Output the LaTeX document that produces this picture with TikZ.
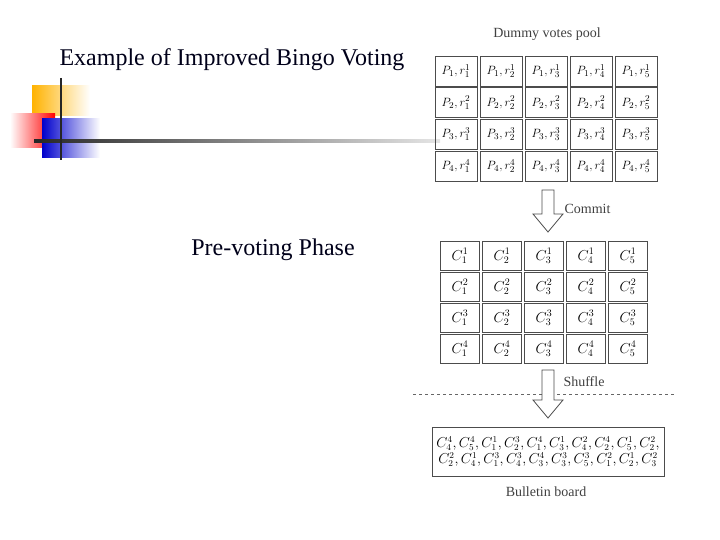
\documentclass[tikz,border=0pt]{standalone}
\usepackage{fontspec}
\setmainfont{Liberation Serif}
\usetikzlibrary{shadings}
\begin{document}
\begin{tikzpicture}[x=1pt,y=-1pt,
 cell/.style={draw=black!70,line width=0.8pt,minimum width=42pt,minimum height=30pt,inner sep=0pt,font=\fontsize{13}{14}\selectfont},
 ccell/.style={draw=black!70,line width=0.8pt,minimum width=39pt,minimum height=29pt,inner sep=0pt,font=\fontsize{14}{15}\selectfont},
 lbl/.style={font=\fontsize{14}{15}\selectfont,text=black!75},
 hollow/.style={draw=black!70,line width=0.8pt,fill=white}]
\useasboundingbox (0,0) rectangle (720,540);
% decoration
\shade[left color=orange!60!yellow,right color=white] (32,86) rectangle (90,116);
\shade[left color=white,right color=red] (10,114) rectangle (55,148);
\shade[left color=blue!80!black,right color=white] (42,119) rectangle (100,158);
\shade[left color=black!85,right color=black!10] (34,140) rectangle (440,142.5);
\draw[black!85,line width=2.5pt] (61,78) -- (61,160);
% titles
\node[font=\fontsize{24}{28}\selectfont,text=black!90!blue] (title) at (232,60) {Example of Improved Bingo Voting};
\node[font=\fontsize{24}{28}\selectfont,text=black!90!blue] (phase) at (273,250) {Pre-voting Phase};
\node[lbl] (pool) at (547,34) {Dummy votes pool};
% top grid
\foreach \r in {1,...,4}{\foreach \c in {1,...,5}{
 \node[cell] (p\r\c) at ({456+45*(\c-1)},{71+31.7*(\r-1)}) {$P_{\r},r_{\c}^{\r}$};}}
% commit arrow
\draw[hollow] (542,190) -- (554,190) -- (554,214) -- (563,214) -- (548,232) -- (533,214) -- (542,214) -- cycle;
\node[lbl,anchor=west] (commit) at (561,209) {Commit};
% second grid
\foreach \r in {1,...,4}{\foreach \c in {1,...,5}{
 \node[ccell] (c\r\c) at ({460+42*(\c-1)},{256+31*(\r-1)}) {$C_{\c}^{\r}$};}}
% shuffle
\draw[black!60,dashed,line width=0.8pt] (413,394) -- (675,394);
\draw[hollow] (542,370) -- (554,370) -- (554,400) -- (563,400) -- (548,418) -- (533,400) -- (542,400) -- cycle;
\node[lbl,anchor=west] (shuffle) at (560,382) {Shuffle};
\node[draw=black!70,line width=0.8pt,minimum width=232pt,minimum height=49pt,align=center,font=\fontsize{13.5}{15}\selectfont,inner sep=1pt] (bb) at (548,451.5)
 {$C_4^4,C_5^4,C_1^1,C_2^3,C_1^4,C_3^1,C_4^2,C_2^4,C_5^1,C_2^2,$\\[1pt]$C_2^2,C_4^1,C_1^3,C_4^3,C_3^4,C_3^3,C_5^3,C_1^2,C_2^1,C_3^2$};
\node[lbl] (board) at (546,492) {Bulletin board};
\end{tikzpicture}
\end{document}
